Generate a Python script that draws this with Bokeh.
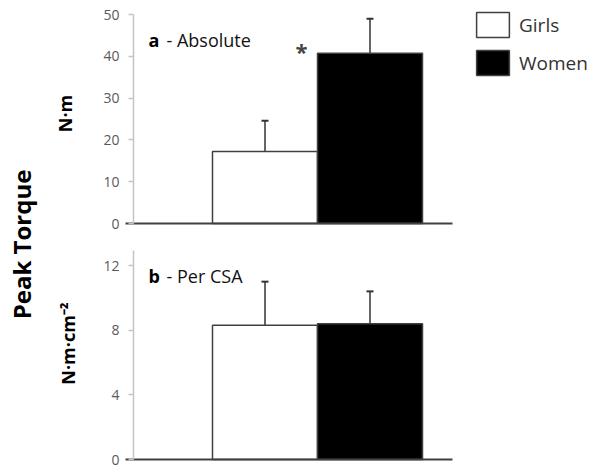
import math
from bokeh.plotting import figure
from bokeh.models import (Range1d, LinearAxis, FixedTicker, Label, Legend, LegendItem,
                          ColumnDataSource)
from bokeh.embed import file_html
from bokeh.resources import INLINE

# ---- data ----
groups = ["Girls", "Women"]
abs_mean = [17.2, 40.7]        # N·m
abs_sd = [7.4, 8.3]
csa_mean = [8.3, 8.4]          # N·m·cm^-2
csa_sd = [2.7, 2.0]
abs_ticks = [0, 10, 20, 30, 40, 50]
csa_ticks = [0, 4, 8, 12]
fills = ["white", "black"]

# ---- layout (pixels) ----
W, H = 593, 470
PX_PER_BAR = 105.0
GIRLS_CX = 264.5                  # canvas x of first bar centre
A_ZERO, A_PPU = 223.0, 209.0 / 50  # canvas y (from top) of 0 and px per unit, panel a
B_ZERO, B_PPU = 459.0, 194.0 / 12  # panel b

pos = [i + 1 for i in range(len(groups))]
x0 = pos[0] - GIRLS_CX / PX_PER_BAR
xr = Range1d(x0, x0 + W / PX_PER_BAR)
yr_a = Range1d(-(H - A_ZERO) / A_PPU, A_ZERO / A_PPU)
yr_b = Range1d(-(H - B_ZERO) / B_PPU, B_ZERO / B_PPU)

def dx(cx):
    return x0 + cx / PX_PER_BAR

p = figure(width=W, height=H, x_range=xr, y_range=yr_a,
           x_axis_location=None, y_axis_location=None,
           min_border=0, outline_line_color=None,
           toolbar_location=None, output_backend="svg")
p.extra_y_ranges = {"b": yr_b}
p.grid.visible = False
p.background_fill_color = "white"

FONT = "Open Sans"
AX_COL = "#c4c4c4"
LAB_COL = "#595959"
EDGE = "#404040"

def style_axis(ax):
    ax.axis_line_color = AX_COL
    ax.axis_line_width = 1.5
    ax.major_tick_line_color = AX_COL
    ax.major_tick_line_width = 1.5
    ax.major_tick_in = 0
    ax.major_tick_out = 5
    ax.minor_tick_line_color = None
    ax.major_label_text_font = FONT
    ax.major_label_text_font_size = "14px"
    ax.major_label_text_color = LAB_COL
    ax.major_label_standoff = 9

axis_x = dx(133)
ax_a = LinearAxis(fixed_location=axis_x, bounds=(0, 50), ticker=FixedTicker(ticks=abs_ticks))
style_axis(ax_a)
p.add_layout(ax_a, "left")
ax_b = LinearAxis(y_range_name="b", fixed_location=axis_x, bounds=(0, 12.9),
                  ticker=FixedTicker(ticks=csa_ticks))
style_axis(ax_b)
p.add_layout(ax_b, "left")

bx0 = dx(125)
bx1 = dx(452)

src_a = ColumnDataSource(dict(x=pos, top=abs_mean, up=[m + s for m, s in zip(abs_mean, abs_sd)],
                              fill=fills, g=groups))
src_b = ColumnDataSource(dict(x=pos, top=csa_mean, up=[m + s for m, s in zip(csa_mean, csa_sd)],
                              fill=fills, g=groups))

renderers = []
for src, rname in ((src_a, "default"), (src_b, "b")):
    # error bars
    p.segment(x0="x", y0="top", x1="x", y1="up", source=src, line_color="#333333",
              line_width=1.5, y_range_name=rname)
    p.scatter(x="x", y="up", marker="dash", size=7, line_color="#333333", line_width=2,
              source=src, y_range_name=rname)
    r = p.vbar(x="x", top="top", bottom=0, width=1.0, fill_color="fill", line_color=EDGE,
               line_width=1.5, source=src, y_range_name=rname)
    renderers.append(r)
    p.segment(x0=[bx0], y0=[0], x1=[bx1], y1=[0], line_color=EDGE, line_width=2,
              y_range_name=rname)

# legend
legend = Legend(items=[LegendItem(label=g, renderers=[renderers[0]], index=i)
                       for i, g in enumerate(groups)],
                location=(472, H - 78), orientation="vertical",
                glyph_width=41, glyph_height=31, spacing=7, label_standoff=6,
                padding=0, margin=0, border_line_color=None, background_fill_alpha=0,
                label_text_font=FONT, label_text_font_size="19px", label_text_color="#333333")
p.add_layout(legend, "center")

def sx(px):
    return px
def sy(py):
    return H - py

def lab(text, x, y, size, bold=False, angle=0.0, align="left", baseline="alphabetic", color="#000000"):
    p.add_layout(Label(x=x, y=y, x_units="screen", y_units="screen", text=text,
                       text_font=FONT, text_font_size=size,
                       text_font_style="bold" if bold else "normal",
                       angle=angle, text_align=align, text_baseline=baseline,
                       text_color=color))

lab("a", sx(148), sy(39), "18px", bold=True)
lab("- Absolute", sx(166), sy(39), "18px", color="#111111")
lab("b", sx(148), sy(275), "18px", bold=True)
lab("- Per CSA", sx(166), sy(275), "18px", color="#111111")

lab("Peak Torque", sx(21), sy(244), "24px", bold=True, angle=math.pi / 2,
    align="center", baseline="middle")
lab("N·m", sx(64), sy(113), "18px", bold=True, angle=math.pi / 2,
    align="center", baseline="middle")
lab("N·m·cm⁻²", sx(67), sy(343), "18px", bold=True, angle=math.pi / 2,
    align="center", baseline="middle")

# significance marker next to the Women bar
p.add_layout(Label(x=pos[1] - 0.5, y=abs_mean[1], text="*", text_font=FONT,
                   text_font_size="22px", text_font_style="bold", text_align="right",
                   text_baseline="alphabetic", x_offset=-10, y_offset=2))

open("out.html", "w").write(file_html(p, INLINE))
